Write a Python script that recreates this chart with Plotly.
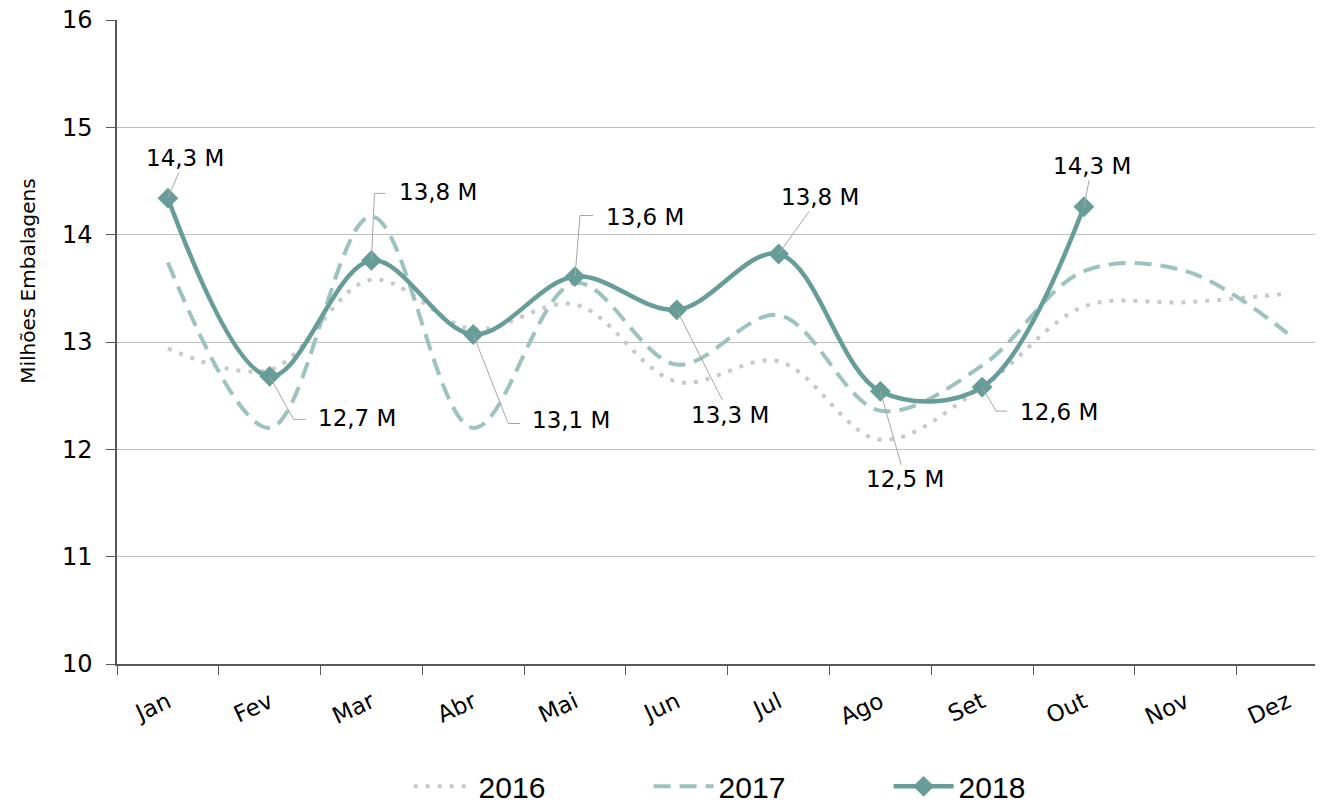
import plotly.graph_objects as go

months = ["Jan", "Fev", "Mar", "Abr", "Mai", "Jun", "Jul", "Ago", "Set", "Out", "Nov", "Dez"]
v2016 = [12.94, 12.74, 13.58, 13.12, 13.35, 12.63, 12.82, 12.09, 12.58, 13.33, 13.37, 13.45]
v2017 = [13.74, 12.20, 14.17, 12.20, 13.55, 12.79, 13.25, 12.36, 12.78, 13.66, 13.66, 13.08]
v2018 = [14.34, 12.68, 13.76, 13.07, 13.61, 13.30, 13.82, 12.54, 12.58, 14.26]

# label placement (pixel offsets of label centre from its point; y down-positive)
label_dx = [17, 87, 67, 98, 70, 53, 41, 25, 77, 8]
label_dy = [-40, 42, -68, 86, -60, 105, -57, 88, 25, -41]
# elbow leader lines: (dx1, dy1, dx2) -> diagonal/vertical to (dx1,dy1), then horizontal to dx2; None = straight
elbow = [None, (24, 43, 36), (3, -67, 14), (35, 89, 47), (5, -61, 18), None, None, None, (14, 24, 25), None]

FONT = "DejaVu Sans"
LEGFONT = "Liberation Sans Narrow, Liberation Sans"
C16 = "#C6CAC8"
C17 = "#9DC3C0"
C18 = "#679D99"
LEAD = "#A6A6A6"

fig = go.Figure()
fig.add_trace(go.Scatter(x=months, y=v2016, name="2016", mode="lines",
                         line=dict(color=C16, width=4, dash="4px,8px", shape="spline", smoothing=1)))
fig.add_trace(go.Scatter(x=months, y=v2017, name="2017", mode="lines",
                         line=dict(color=C17, width=4, dash="17px,9px", shape="spline", smoothing=1)))
fig.add_trace(go.Scatter(x=months[:len(v2018)], y=v2018, name="2018", mode="lines+markers",
                         line=dict(color=C18, width=4.5, shape="spline", smoothing=1),
                         marker=dict(symbol="diamond", size=16, color=C18)))

for i, v in enumerate(v2018):
    txt = f"{v:.1f}".replace(".", ",") + " M"
    font = dict(family=FONT, size=23, color="#000000")
    if elbow[i] is None:
        fig.add_annotation(x=months[i], y=v, text=txt, showarrow=True, arrowhead=0,
                           arrowwidth=1, arrowcolor=LEAD, ax=label_dx[i], ay=label_dy[i],
                           font=font)
    else:
        fig.add_annotation(x=months[i], y=v, text=txt, showarrow=False,
                           xshift=label_dx[i], yshift=-label_dy[i], font=font)
        dx1, dy1, dx2 = elbow[i]
        fig.add_shape(type="path", xref="x", yref="y", xsizemode="pixel", ysizemode="pixel",
                      xanchor=i, yanchor=v,
                      path=f"M 0,0 L {dx1},{-dy1} L {dx2},{-dy1}",
                      line=dict(color=LEAD, width=1), layer="above")

fig.add_annotation(xref="paper", yref="paper", x=-0.0742, y=0.595, text="Milhões Embalagens",
                   textangle=-90, showarrow=False, xanchor="center", yanchor="middle",
                   font=dict(family=FONT, size=20, color="#000000"))

fig.update_layout(
    width=1315, height=797,
    margin=dict(l=109, r=6, t=12, b=141, autoexpand=False),
    plot_bgcolor="white", paper_bgcolor="white",
    font=dict(family=FONT, size=24, color="#000000"),
    showlegend=True,
    legend=dict(orientation="h", x=0.543, xanchor="center", y=-0.19, yanchor="middle",
                font=dict(family=LEGFONT, size=30, color="#000000"), entrywidth=165,
                itemwidth=60),
    xaxis=dict(type="category", range=[-0.5, 11.29], tickson="boundaries",
               ticks="outside", ticklen=9, tickcolor="#595959", showgrid=False,
               showline=True, linecolor="#595959", linewidth=1.5, tickangle=-25,
               tickfont=dict(size=23), automargin=False, ticklabelstandoff=14),
    yaxis=dict(range=[10, 16], dtick=1, showgrid=True, gridcolor="#BFBFBF", gridwidth=1,
               showline=True, linecolor="#595959", linewidth=1.5, ticks="outside",
               ticklen=9, tickcolor="#595959", zeroline=False, tickfont=dict(size=24),
               automargin=False, ticklabelstandoff=9, ticklabeloverflow="allow"),
)

fig.write_html("out.html")
